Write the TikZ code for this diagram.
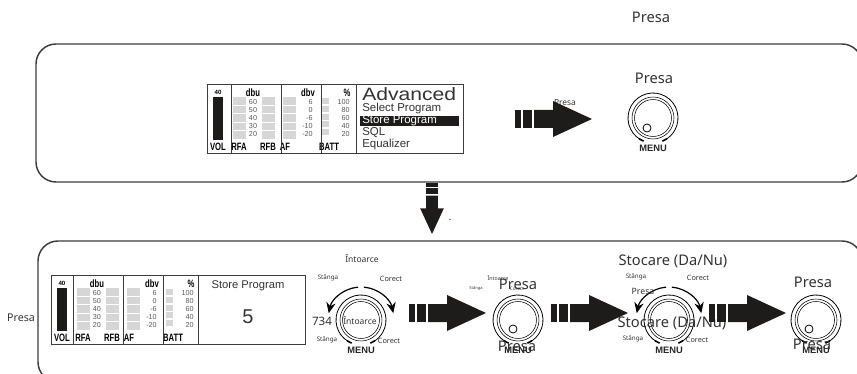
\documentclass[tikz,border=0pt]{standalone}
\usepackage{fontspec}
\usetikzlibrary{arrows.meta}
\setmainfont{Noto Sans}
\newfontfamily\lcdfont{Liberation Sans}
\newfontfamily\widefont[FakeStretch=1.18]{Liberation Sans}
\newfontfamily\narrowfont[FakeStretch=0.72]{Liberation Sans}
\definecolor{lineink}{HTML}{3C3C3C}
\definecolor{cellgray}{HTML}{D6D6D6}
\definecolor{barink}{HTML}{1E1C1B}
\tikzset{
  frameline/.style={draw=lineink,line width=1.1pt,rounded corners=15pt},
  tag/.style={inner sep=0pt,text=black!80,font=\fontsize{#1}{#1}\selectfont},
  scalenum/.style={inner sep=0pt,text=black!65,font=\lcdfont\fontsize{5.4}{5.4}\selectfont},
  scalehead/.style={inner sep=0pt,font=\narrowfont\bfseries\fontsize{8}{8}\selectfont},
  menutext/.style={inner sep=0pt,text=black!85,font=\lcdfont\bfseries\fontsize{7}{7}\selectfont},
  menuline/.style={inner sep=0pt,anchor=west,text=black!80,font=\lcdfont\fontsize{8.6}{8.6}\selectfont},
  turnarrow/.style={line width=.9pt,-{Stealth[length=8pt,width=7pt]}},
  bigarrow/.pic={
    \fill[barink] (-77,-9) rectangle (-71,9);
    \fill[barink] (-69,-9) rectangle (-60,9);
    \fill[barink] (-58,-9)--(-39,-9)--(-39,-18)--(0,0)--(-39,18)--(-39,9)--(-58,9)--cycle;
  },
  knob/.pic={
    \draw[line width=.6pt] (120:25) arc (120:420:25);
    \draw[line width=1.2pt] (112:25) arc (112:124:25);
    \draw[line width=1.2pt] (56:25) arc (56:68:25);
    \draw[line width=.4pt] (0,0) circle (21);
    \draw[line width=.4pt] (0,0) circle (18.5);
    \node[menutext] (menu) at (0,30) {MENU};
  },
  lcd/.pic={
    \fill[barink] (6,13) rectangle (16,56);
    \node[inner sep=0pt,font=\lcdfont\bfseries\fontsize{4.6}{4.6}\selectfont] (level) at (11,8) {40};
    \node[scalehead] (vol) at (11,63) {VOL};
    \node[scalehead] (rfa) at (32,63) {RFA};
    \node[scalehead] (rfb) at (61,63) {RFB};
    \node[scalehead] (af) at (78,63) {AF};
    \node[scalehead] (batt) at (122,63) {BATT};
    \node[scalehead] (dbu) at (46,9) {dbu};
    \node[scalehead] (dbv) at (101,9) {dbv};
    \node[scalehead] (pct) at (140,9) {\%};
    \foreach \row in {0,...,4}{
      \fill[cellgray] (26,13+8.6*\row) rectangle +(13,7.6);
      \fill[cellgray] (55,13+8.6*\row) rectangle +(13,7.6);
      \fill[cellgray] (76,13+8.6*\row) rectangle +(13,7.6);
      \fill[cellgray] (115,14+7.8*\row) rectangle +(6.5,6);
    }
    \foreach \val [count=\row from 0] in {60,50,40,30,20}
      \node[scalenum] (dbu\row) at (46,18+8*\row) {\val};
    \foreach \val [count=\row from 0] in {6,0,-6,-10,-20}
      \node[scalenum,anchor=east] (dbv\row) at (106,18+8*\row) {\val};
    \foreach \val [count=\row from 0] in {100,80,60,40,20}
      \node[scalenum,anchor=east] (pct\row) at (143,18+8*\row) {\val};
  },
}
\begin{document}
\begin{tikzpicture}[x=0.75pt,y=-0.75pt]
\useasboundingbox (0,0) rectangle (857,374);
\clip (0,0) rectangle (857,374);
% frames
\draw[frameline] (36,44) rectangle (862,182);
\draw[frameline] (38,241) rectangle (862,382);
% upper panel
\draw[lineink,line width=.7pt] (207,84) rectangle (463,153);
\pic (upper) at (207,84) {lcd};
\foreach \xpos in {231,281,321,356}
  \draw[lineink,line width=.7pt] (\xpos,84)--(\xpos,153);
\fill[barink] (360,116) rectangle (459,126);
\node[menuline,font=\widefont\fontsize{13.4}{13.4}\selectfont] (advanced) at (362,94) {Advanced};
\node[menuline] (select) at (362,109) {Select Program};
\node[menuline,text=white] (store) at (362,121) {Store Program};
\node[menuline] (sql) at (362,133) {SQL};
\node[menuline] (equal) at (362,145) {Equalizer};
\node[tag=11] (presatop) at (651,17) {Presa};
\node[tag=11] (presaone) at (654,78) {Presa};
\node[tag=6.3] (presasmall) at (565,103) {Presa};
\pic (arrowA) at (592,119) {bigarrow};
\pic (knobA) at (653,118) {knob};
\draw[line width=.6pt] (647,128) circle (4);
% link between panels
\pic (arrowB) [rotate=-90,scale=.66] at (432,234) {bigarrow};
\node[tag=8] (dot) at (450,220) {.};
% lower panel
\draw[lineink,line width=.7pt] (51,275) rectangle (305,344);
\pic (lower) at (51,275) {lcd};
\foreach \xpos in {73,123,163,198}
  \draw[lineink,line width=.7pt] (\xpos,275)--(\xpos,344);
\node[menuline,anchor=center,font=\lcdfont\fontsize{8.4}{8.4}\selectfont] (storetitle) at (248,286) {Store Program};
\node[menuline,anchor=center,font=\lcdfont\fontsize{15}{15}\selectfont] (storeval) at (248,317) {5};
\node[tag=8] (presaleft) at (21,318) {Presa};
% first knob
\pic (knobB) at (361,320) {knob};
\draw[turnarrow] (361,320) ++(-95:33) arc (-95:-168:33);
\draw[turnarrow] (361,320) ++(-85:33) arc (-85:-12:33);
\node[tag=6.4] (turnup) at (362,259) {Întoarce};
\node[tag=6.4] (turnin) at (360,321) {Întoarce};
\node[tag=4.7] (leftup) at (328,278) {Stânga};
\node[tag=5.5] (rightup) at (391,279) {Corect};
\node[tag=4.7] (leftdown) at (327,340) {Stânga};
\node[tag=5.5] (rightdown) at (389,341) {Corect};
\node[tag=8.7] (value) at (322,321) {734};
\pic (arrowC) at (486,313) {bigarrow};
% second knob
\pic (knobC) at (518,320) {knob};
\draw[line width=.6pt] (513,329) circle (4);
\node[tag=4] (turnsmall) at (498,278) {Întoarce};
\node[tag=3] (leftsmall) at (476,288) {Stânga};
\node[tag=3.5] (rightsmall) at (517,289) {Corect};
\node[tag=11] (presatwo) at (518,284) {Presa};
\node[tag=11] (presatwob) at (517,346) {Presa};
\pic (arrowD) at (628,313) {bigarrow};
% third knob
\pic (knobD) at (669,320) {knob};
\draw[turnarrow] (669,320) ++(-95:33) arc (-95:-168:33);
\draw[turnarrow] (669,320) ++(-85:33) arc (-85:-12:33);
\node[tag=11] (savetop) at (673,261) {Stocare (Da/Nu)};
\node[tag=11] (savelow) at (672,323) {Stocare (Da/Nu)};
\node[tag=4.7] (leftthree) at (636,277) {Stânga};
\node[tag=5.5] (rightthree) at (698,278) {Corect};
\node[tag=4.7] (leftfour) at (633,339) {Stânga};
\node[tag=5.5] (rightfour) at (697,340) {Corect};
\node[tag=6.5] (presathree) at (643,291) {Presa};
\pic (arrowE) at (786,313) {bigarrow};
% fourth knob
\pic (knobE) at (816,320) {knob};
\draw[line width=.6pt] (809,329) circle (4);
\node[tag=11] (presafour) at (813,282) {Presa};
\node[tag=11] (presafourb) at (812,344) {Presa};
\end{tikzpicture}
\end{document}
